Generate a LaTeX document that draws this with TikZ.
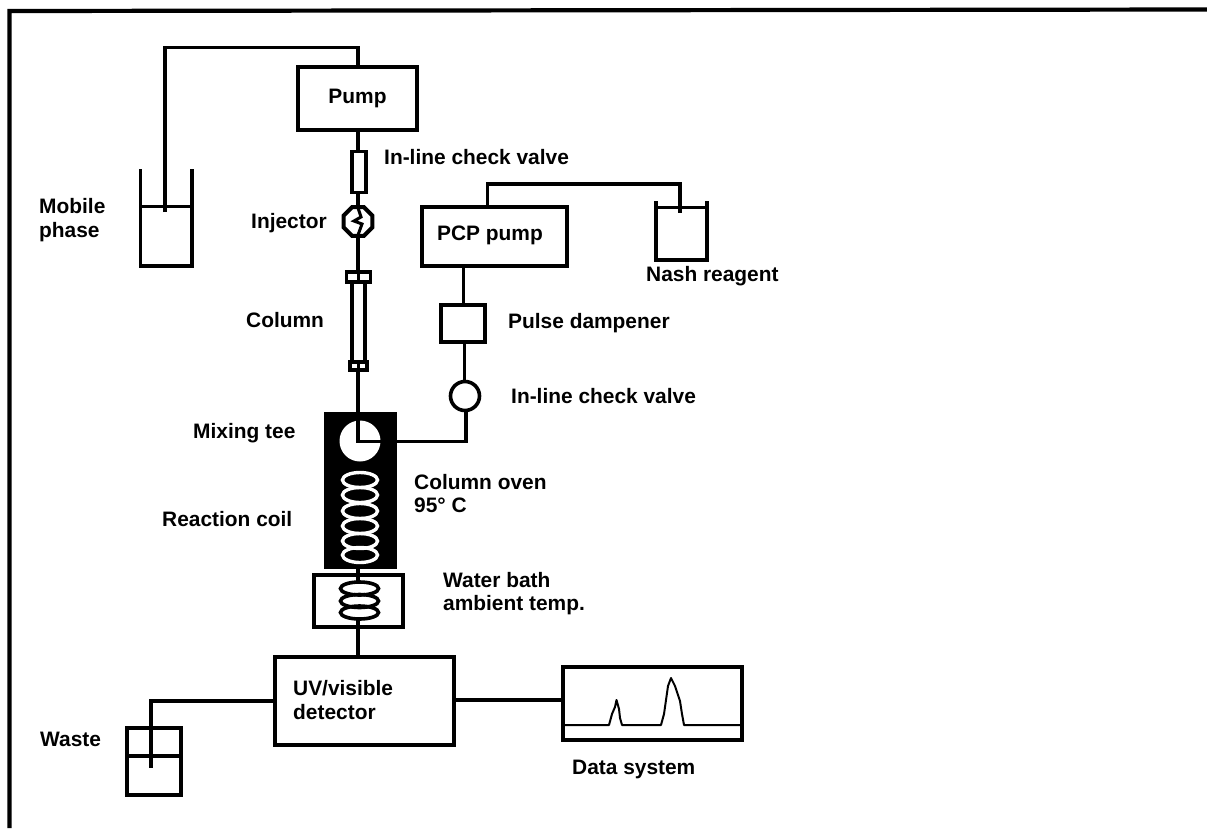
\documentclass[tikz,border=0pt]{standalone}
\usepackage{fontspec}
\usetikzlibrary{shapes.geometric}
\setmainfont{Liberation Sans}
\tikzset{
  x=1pt,y=-1pt,
  pipe/.style={line width=3.8pt,black,line join=miter},
  vessel/.style={line width=3.2pt,black},
  boxed/.style={draw=black,line width=4pt,fill=white,inner sep=0pt,outer sep=0pt},
  lab/.style={font=\bfseries\fontsize{20.9}{23.5}\selectfont,text=black,inner sep=0pt,align=left,anchor=west}
}
\begin{document}
\begin{tikzpicture}
\useasboundingbox (0,0) rectangle (1207,828);
\fill[white] (0,0) rectangle (1207,828);
% frame
\draw[line width=4.2pt] (9.5,828) -- (9.5,11) -- (1207,9.5);
% mobile phase
\draw[vessel] (140.5,169) -- (140.5,266) -- (192,266) -- (192,169);
\draw[vessel] (140.5,206.5) -- (192,206.5);
\coordinate (mobin) at (165,212);
\node[boxed,minimum width=119pt,minimum height=63pt] (pump) at (357.5,98.5) {};
\node[lab,anchor=center] (pumpl) at (pump.center) {Pump};
\draw[pipe] (mobin) -- (165,47.5) -- (358,47.5) -- (358,67);
% in-line check valve 1
\node[boxed,line width=3.6pt,minimum width=14pt,minimum height=41pt] (cv1) at (359,172) {};
\draw[pipe] (358,130) -- (358,151);
% injector
\node[boxed,regular polygon,regular polygon sides=8,line width=4pt,minimum size=31pt] (inj) at (358,221.5) {};
\draw[line width=3pt] (358,208) -- (361,217) -- (354,221) -- (362,224) -- (358,235);
\draw[pipe] (358,193) -- (358,207);
% column
\node[boxed,line width=3.8pt,minimum width=13pt,minimum height=82pt] (col) at (358.5,322) {};
\node[boxed,line width=3.8pt,minimum width=24pt,minimum height=9.5pt] (ct) at (358.5,277) {};
\node[boxed,line width=3.8pt,minimum width=17pt,minimum height=8pt] (cb) at (358.5,366) {};
\draw[pipe] (358,236) -- (358,272);
\draw[line width=2.4pt] (358.5,272) -- (358.5,282);
\draw[line width=2.4pt] (358.5,362) -- (358.5,370);
% oven
\node[fill=black,inner sep=0pt,minimum width=73pt,minimum height=157pt] (oven) at (360.5,490) {};
\fill[white] (360,441) circle (20.5pt);
\coordinate (tee) at (358.5,441.5);
\draw[pipe] (358,370) -- (358,441.5) -- (oven.east |- tee);
% coil
\foreach \yy in {480,495,511,526,541,555}{
  \draw[white,line width=3.4pt] (360,\yy) ellipse (17.5pt and 7.5pt);
}
% water bath
\node[boxed,minimum width=89pt,minimum height=52pt] (bath) at (358.5,601) {};
\draw[pipe] (358,568) -- (358,581);
\foreach \yy in {588.5,601,612.5}{
  \draw[black,line width=3.6pt] (359.5,\yy) ellipse (19pt and 6.5pt);
}
% detector
\node[boxed,minimum width=179pt,minimum height=88pt] (det) at (364,701) {};
\draw[pipe] (358,620) -- (358,657);
\node[lab] (detl) at (293,700) {UV/visible\\detector};
% PCP
\node[boxed,minimum width=145pt,minimum height=59pt] (pcp) at (494,236.5) {};
\node[boxed,minimum width=44pt,minimum height=37pt] (damp) at (462.5,323) {};
\node[boxed,line width=3.6pt,circle,minimum size=29pt] (cv2) at (465,396) {};
\draw[pipe] (463.5,266) -- (463.5,304.5);
\draw[pipe] (464.5,341.5) -- (464.5,381.5);
\draw[pipe] (oven.east |- tee) -- (466,441.5) -- (466,410.5);
% Nash
\draw[vessel] (656,201) -- (656,260) -- (707,260) -- (707,201);
\draw[vessel] (656,207.5) -- (707,207.5);
\coordinate (nashin) at (680,213);
\draw[pipe] (487.5,206) -- (487.5,184) -- (680,184) -- (nashin);
% waste
\node[boxed,line width=3.6pt,minimum width=54pt,minimum height=67pt] (waste) at (154,761.5) {};
\draw[vessel] (waste.west |- 0,756) -- (waste.east |- 0,756);
\coordinate (wastein) at (151,768);
\draw[pipe] (274.5,701) -- (151,701) -- (wastein);
% data
\node[boxed,minimum width=179pt,minimum height=73pt] (data) at (652.5,703) {};
\draw[pipe] (453,700) -- (563,700);
\draw[line width=2pt,line join=round] (564,725) -- (609,725) -- (612,714) -- (615,707) -- (616.5,700) -- (619,709) -- (620,718) -- (622,725) -- (661,725) -- (664,714) -- (666,700) -- (668,686) -- (671,678) -- (675,686) -- (680,701) -- (682,714) -- (684,725) -- (741,725);
% labels
\node[lab] (l1) at (39,220) {Mobile\\phase};
\node[lab] (l2) at (384,157) {In-line check valve};
\node[lab] (l3) at (251,223.5) {Injector};
\node[lab] (l4) at (246,320.5) {Column};
\node[lab,anchor=center] (l5) at (490,235) {PCP pump};
\node[lab] (l6) at (646,276) {Nash reagent};
\node[lab] (l7) at (508,323) {Pulse dampener};
\node[lab] (l8) at (511,396) {In-line check valve};
\node[lab] (l9) at (193,433) {Mixing tee};
\node[lab] (l10) at (162,519) {Reaction coil};
\node[lab] (l11) at (414,493.5) {Column oven\\95° C};
\node[lab] (l12) at (443,593.5) {Water bath\\ambient temp.};
\node[lab] (l14) at (40,739) {Waste};
\node[lab] (l15) at (572,769) {Data system};
\end{tikzpicture}
\end{document}
